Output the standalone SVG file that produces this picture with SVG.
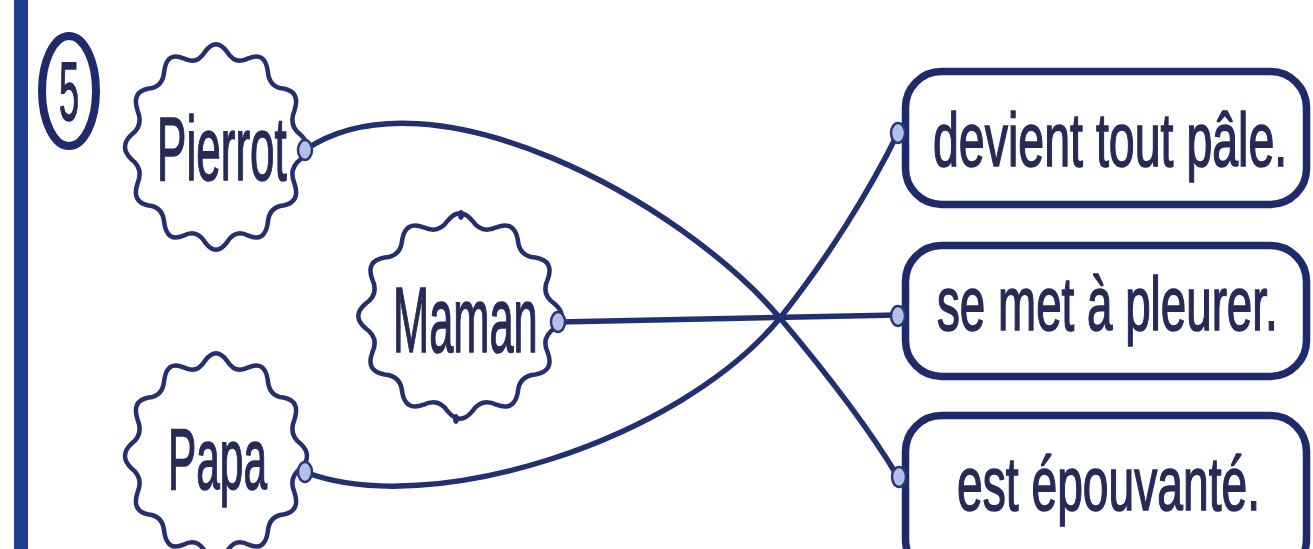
<svg xmlns="http://www.w3.org/2000/svg" xmlns:xlink="http://www.w3.org/1999/xlink" width="1313" height="549" viewBox="0 0 1313 549">
<style>
.lbl{font-family:"Liberation Sans",Arial,sans-serif;fill:#272a57;stroke:#272a57;stroke-width:1.6;}
.cloud{fill:#fff;stroke:#262f6e;stroke-width:4.5;}
.box{fill:#fff;stroke:#1f2a6b;stroke-width:7.5;}
.con{fill:none;stroke:#22306f;stroke-width:5.5;stroke-linecap:round;}
.pt{fill:#b3c0ea;stroke:#2b3678;stroke-width:2.5;}
</style>
<defs>
<path id="cloudShape" vector-effect="non-scaling-stroke" d="M99.14,-13.05 Q115,0 99.14,13.05 Q85,22.8 92.39,38.27 Q99.6,57.5 79.34,60.88 Q62.2,62.2 60.88,79.34 Q57.5,99.6 38.27,92.39 Q22.8,85 13.05,99.14 Q0,115 -13.05,99.14 Q-22.8,85 -38.27,92.39 Q-57.5,99.6 -60.88,79.34 Q-62.2,62.2 -79.34,60.88 Q-99.6,57.5 -92.39,38.27 Q-85,22.8 -99.14,13.05 Q-115,0 -99.14,-13.05 Q-85,-22.8 -92.39,-38.27 Q-99.6,-57.5 -79.34,-60.88 Q-62.2,-62.2 -60.88,-79.34 Q-57.5,-99.6 -38.27,-92.39 Q-22.8,-85 -13.05,-99.14 Q0,-115 13.05,-99.14 Q22.8,-85 38.27,-92.39 Q57.5,-99.6 60.88,-79.34 Q62.2,-62.2 79.34,-60.88 Q99.6,-57.5 92.39,-38.27 Q85,-22.8 99.14,-13.05 Z"/>
</defs>
<rect width="1313" height="549" fill="#fff"/>
<rect x="14" y="0" width="14" height="549" fill="#1e3f8f"/>
<g id="num5">
<ellipse cx="69" cy="91" rx="27" ry="55" fill="none" stroke="#1f2a6b" stroke-width="8"/>
<text class="lbl" transform="translate(59,120) scale(0.43,1)" font-size="84">5</text>
</g>
<g id="connectors">
<path class="con" d="M305,150 C430,65 680,200 780,318 C828,375 870,430 898,477"/>
<path class="con" d="M305,472 C430,520 680,440 780,318 C828,258 870,190 898,133"/>
<path class="con" d="M558,322 L898,315"/>
</g>
<g id="pierrot">
<use xlink:href="#cloudShape" class="cloud" transform="translate(216,147) scale(0.85,0.96)"/>
<text class="lbl" transform="translate(157,180) scale(0.49,1)" font-size="90">Pierrot</text>
<ellipse class="pt" cx="305" cy="150" rx="7" ry="10"/>
</g>
<g id="maman">
<use xlink:href="#cloudShape" class="cloud" transform="translate(460,316) scale(0.95,0.96)"/>
<ellipse cx="461" cy="215" rx="3" ry="5" fill="#262f6e"/>
<ellipse cx="456" cy="419" rx="3" ry="5" fill="#262f6e"/>
<text class="lbl" transform="translate(393,352) scale(0.472,1)" font-size="92">Maman</text>
<ellipse class="pt" cx="558" cy="322" rx="7" ry="10"/>
</g>
<g id="papa">
<use xlink:href="#cloudShape" class="cloud" transform="translate(216,456) scale(0.85,0.96)"/>
<text class="lbl" transform="translate(168,489) scale(0.482,1)" font-size="88">Papa</text>
<ellipse class="pt" cx="305" cy="472" rx="7" ry="10"/>
</g>
<g id="box1">
<rect class="box" x="905.5" y="71.5" width="401" height="133" rx="36" ry="36"/>
<text class="lbl" transform="translate(933,166) scale(0.612,1)" font-size="76">devient tout pâle.</text>
<ellipse class="pt" cx="898" cy="133" rx="7" ry="10"/>
</g>
<g id="box2">
<rect class="box" x="905.5" y="245.5" width="401" height="131" rx="36" ry="36"/>
<text class="lbl" transform="translate(937,330) scale(0.602,1)" font-size="76">se met à pleurer.</text>
<ellipse class="pt" cx="898" cy="316" rx="7" ry="10"/>
</g>
<g id="box3">
<rect class="box" x="905.5" y="415.5" width="401" height="160" rx="36" ry="36"/>
<text class="lbl" transform="translate(957,510) scale(0.608,1)" font-size="76">est épouvanté.</text>
<ellipse class="pt" cx="899" cy="477" rx="7" ry="10"/>
</g>
</svg>
